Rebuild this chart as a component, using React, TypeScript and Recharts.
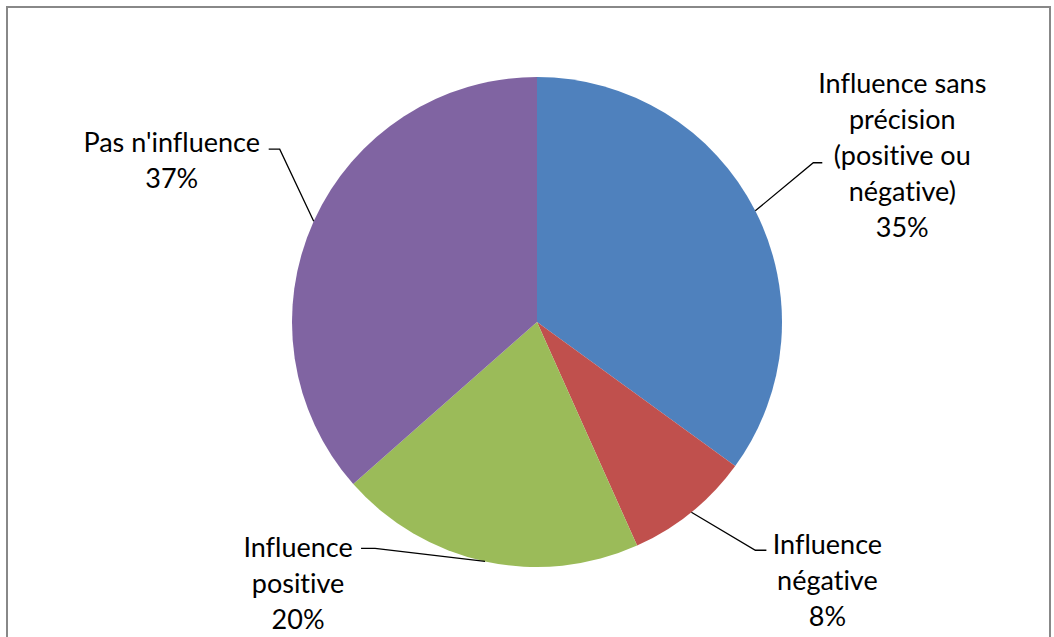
import { Cell, Pie, PieChart } from 'recharts'

const categories = [
  'Influence sans précision (positive ou négative)',
  'Influence négative',
  'Influence positive',
  "Pas n'influence",
]
const shares = [35, 8.3, 20.2, 36.5]
const labelLines = [
  ['Influence sans', 'précision', '(positive ou', 'négative)'],
  ['Influence', 'négative'],
  ['Influence', 'positive'],
  ["Pas n'influence"],
]

const colors = ['#4F81BD', '#C0504D', '#9BBB59', '#8064A2']

// label placement, relative to the slice's outer edge at its mid angle
// elbow: where the leader bends, tick: horizontal run, tx/ty: text centre x / first line y from elbow end
const labelLayout = [
  { ex: 58, ey: -48, tick: 9, tx: 80, ty: -80 },
  { ex: 64, ey: 38, tick: 11, tx: 61, ty: -7 },
  { ex: -110, ey: -13, tick: -14, tx: -63, ty: -2 },
  { ex: -34, ey: -72, tick: -11, tx: -97, ty: -8 },
]

const data = categories.map((name, i) => ({ name, value: shares[i] }))

const RADIAN = Math.PI / 180
const FONT = 'Lato, "Open Sans", sans-serif'
const LINE_H = 36

const renderLabel = (props: any) => {
  const { cx, cy, midAngle, outerRadius, index, percent } = props
  const sx = cx + outerRadius * Math.cos(-midAngle * RADIAN)
  const sy = cy + outerRadius * Math.sin(-midAngle * RADIAN)
  const l = labelLayout[index]
  const mx = sx + l.ex
  const my = sy + l.ey
  const hx = mx + l.tick
  const lines = [...labelLines[index], `${Math.round(percent * 100)}%`]
  return (
    <g>
      <polyline
        points={`${sx},${sy} ${mx},${my} ${hx},${my}`}
        fill='none'
        stroke='#000'
        strokeWidth={1.3}
      />
      {lines.map((t, k) => (
        <text
          key={k}
          x={hx + l.tx}
          y={my + l.ty + k * LINE_H}
          textAnchor='middle'
          dominantBaseline='central'
          fontFamily={FONT}
          fontSize={27}
          fill='#000'
          style={{ fontVariantLigatures: 'none' }}
        >
          {t}
        </text>
      ))}
    </g>
  )
}

export default function App() {
  return (
    <div style={{ position: 'absolute', left: 0, top: 0, width: 1054, height: 637, background: '#fff' }}>
      <svg width={1054} height={637} style={{ position: 'absolute', left: 0, top: 0 }}>
        <rect x={7} y={7} width={1043} height={660} fill='none' stroke='#888888' strokeWidth={2} />
      </svg>
      <div style={{ position: 'absolute', left: 0, top: 0 }}>
        <PieChart width={1054} height={637} margin={{ top: 0, right: 0, bottom: 0, left: 0 }}>
          <Pie
            data={data}
            dataKey='value'
            nameKey='name'
            cx={537}
            cy={322}
            outerRadius={245}
            startAngle={90}
            endAngle={-270}
            stroke='none'
            label={renderLabel}
            labelLine={false}
            isAnimationActive={false}
          >
            {data.map((d, i) => (
              <Cell key={d.name} fill={colors[i]} />
            ))}
          </Pie>
        </PieChart>
      </div>
    </div>
  )
}
